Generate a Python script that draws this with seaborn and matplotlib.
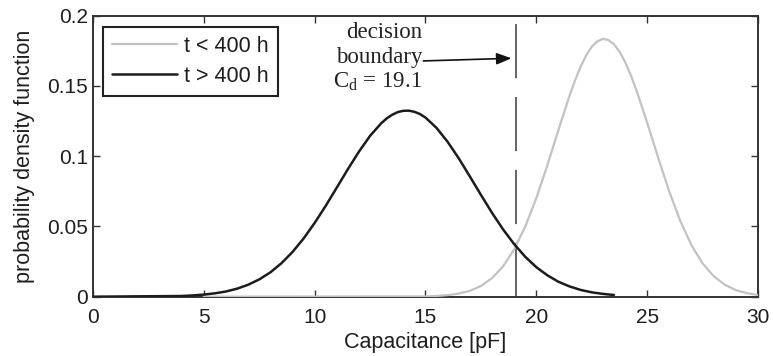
import matplotlib
matplotlib.use("Agg")
import matplotlib.pyplot as plt
import seaborn as sns
import pandas as pd

# ---- data ----
x_after = [0, 4, 4.5, 5, 5.5, 6, 6.5, 7, 7.5, 8, 8.5, 9, 9.5, 10, 10.5, 11, 11.5,
           12, 12.5, 13, 13.25, 13.5, 13.75, 14, 14.25, 14.5, 14.75, 15, 15.5, 16,
           16.5, 17, 17.5, 18, 18.5, 19, 19.5, 20, 20.5, 21, 21.5, 22, 22.5, 23, 23.5]
pdf_after = [0.0, 0.0005, 0.0009, 0.0015, 0.0024, 0.0037, 0.0057, 0.0085, 0.0123,
             0.0173, 0.0238, 0.0318, 0.0414, 0.0525, 0.0647, 0.0777, 0.0908, 0.1033,
             0.1145, 0.1234, 0.1269, 0.1295, 0.1314, 0.1323, 0.1324, 0.1316, 0.1300,
             0.1275, 0.1201, 0.1102, 0.0985, 0.0856, 0.0725, 0.0597, 0.0479, 0.0374,
             0.0284, 0.0210, 0.0152, 0.0106, 0.0073, 0.0048, 0.0031, 0.0020, 0.0012]

x_early = [5, 15, 15.5, 16, 16.5, 17, 17.5, 18, 18.5, 19, 19.5, 20, 20.5, 21, 21.5,
           21.75, 22, 22.25, 22.5, 22.75, 23, 23.25, 23.5, 23.75, 24, 24.25, 24.5,
           25, 25.5, 26, 26.5, 27, 27.5, 28, 28.5, 29, 29.5, 30]
pdf_early = [0.0, 0.0002, 0.0005, 0.0011, 0.0022, 0.0042, 0.0076, 0.0132, 0.0216,
             0.0337, 0.0499, 0.0702, 0.0937, 0.1189, 0.1432, 0.1541, 0.1638, 0.1718,
             0.1779, 0.1818, 0.1835, 0.1827, 0.1797, 0.1745, 0.1672, 0.1581, 0.1477,
             0.1239, 0.0987, 0.0747, 0.0537, 0.0366, 0.0237, 0.0146, 0.0085, 0.0047,
             0.0025, 0.0012]

decision_boundary = 19.1
series_labels = ["t < 400 h", "t > 400 h"]
x_ticks = [0, 5, 10, 15, 20, 25, 30]
x_tick_labels = ["0", "5", "10", "15", "20", "25", "30"]
y_ticks = [0, 0.05, 0.1, 0.15, 0.2]
y_tick_labels = ["0", "0.05", "0.1", "0.15", "0.2"]

df_early = pd.DataFrame({"C": x_early, "pdf": pdf_early})
df_after = pd.DataFrame({"C": x_after, "pdf": pdf_after})

# ---- style ----
sns.set_style("ticks")
plt.rcParams["font.family"] = ["Liberation Sans", "DejaVu Sans"]
plt.rcParams["lines.scale_dashes"] = False
plt.rcParams["xtick.direction"] = "in"
plt.rcParams["ytick.direction"] = "in"
plt.rcParams["xtick.top"] = True
plt.rcParams["ytick.right"] = True

fig = plt.figure(figsize=(7.73, 3.56), dpi=100)
ax = fig.add_axes([0.1203, 0.1666, 0.8603, 0.7893])

text_color = "#1e1e1e"
sns.lineplot(data=df_early, x="C", y="pdf", ax=ax, color="#c2c2c2", lw=1.6,
             label=series_labels[0], zorder=3)
sns.lineplot(data=df_after, x="C", y="pdf", ax=ax, color="#1c1c1c", lw=1.8,
             label=series_labels[1], zorder=3)

ax.axvline(decision_boundary, color="#3a3a3a", lw=1.1, linestyle=(0, (39, 13.5)),
           zorder=2)

ax.set_xlim(0, 30)
ax.set_ylim(0, 0.2)
ax.set_xticks(x_ticks)
ax.set_xticklabels(x_tick_labels)
ax.set_yticks(y_ticks)
ax.set_yticklabels(y_tick_labels)
ax.tick_params(axis="both", which="both", length=5, width=1.0, color="#333333",
               labelsize=15, labelcolor=text_color)
ax.tick_params(axis="x", pad=8)
ax.tick_params(axis="y", pad=3.5)
for s in ax.spines.values():
    s.set_color("#333333")
    s.set_linewidth(1.4)
    s.set_visible(True)

ax.set_xlabel("Capacitance [pF]", fontsize=15.5, color=text_color, labelpad=4)
ax.set_ylabel("probability density function", fontsize=15.5, color=text_color,
              labelpad=9)

leg = ax.legend(loc="upper left", bbox_to_anchor=(0.015, 0.96), fontsize=15.5,
                frameon=True, fancybox=False, framealpha=1, edgecolor="#222222",
                handlelength=3.0, handletextpad=0.35, borderpad=0.42,
                labelspacing=0.4, borderaxespad=0)
leg.get_frame().set_linewidth(1.5)
for t in leg.get_texts():
    t.set_color(text_color)

serif = ["Liberation Serif", "DejaVu Serif"]
tx = 14.85
ax.text(tx, 0.1880, "decision", ha="right", va="center", fontsize=16.5,
        family=serif, color="#222222")
ax.text(tx, 0.1703, "boundary", ha="right", va="center", fontsize=16.5,
        family=serif, color="#222222")
ax.text(tx, 0.1530, r"C$_\mathregular{d}$ = 19.1", ha="right", va="center",
        fontsize=16.5, family=serif, color="#222222")
ax.annotate("", xy=(18.88, 0.1697), xytext=(14.9, 0.1678),
            arrowprops=dict(arrowstyle="-|>,head_length=0.9,head_width=0.35",
                            color="#111111", lw=1.2, shrinkA=0, shrinkB=0))

fig.savefig("out.png", dpi=100)
